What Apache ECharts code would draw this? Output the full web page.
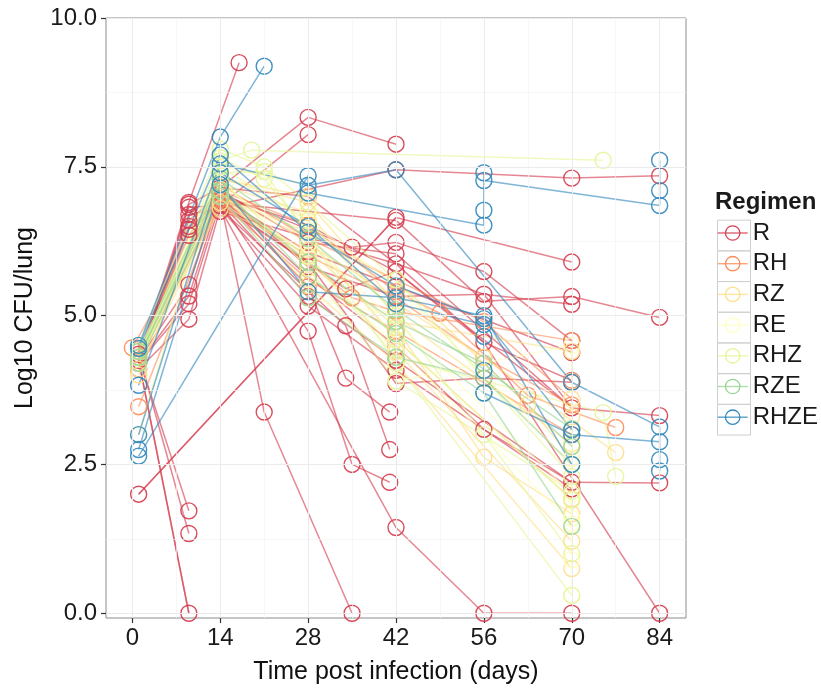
<!DOCTYPE html>
<html><head><meta charset="utf-8">
<script src="https://cdn.jsdelivr.net/npm/echarts@6/dist/echarts.min.js"></script>
<style>html,body{margin:0;padding:0;background:#fff}#c{width:821px;height:690px}</style>
</head><body><div id="c"></div>
<script>
const regimens = ['R','RH','RZ','RE','RHZ','RZE','RHZE'];
const regimenColors = ['#D53E4F','#FC8D59','#FEE08B','#FFFFBF','#E6F598','#99D594','#3288BD'];
const xTicks = [0,14,28,42,56,70,84];
const xMinor = [7,21,35,49,63,77];
const yTicks = [0,2.5,5,7.5,10];
const yMinor = [1.25,3.75,6.25,8.75];

// trajectories: [day, log10 CFU]  (first two appear twice: overlapping animals)
const pathsR = [
  [[1,4.25],[9,0]],
  [[1,4.25],[9,0]],
  [[1,2.0],[42,6.65],[70,5.9]],
  [[1,2.0],[42,6.65]],
  [[1,4.3],[9,1.72]],
  [[1,4.35],[9,1.34]],
  [[1,4.2],[9,6.87],[14,7.15],[28,8.33],[42,7.88]],
  [[1,4.2],[9,6.82],[14,6.85],[28,8.04]],
  [[1,4.25],[9,6.7],[14,6.8],[42,7.45],[70,7.31],[84,7.35]],
  [[1,4.3],[9,6.9],[17,9.25]],
  [[1,4.3],[9,6.35],[14,6.95],[21,3.38],[35,0]],
  [[1,4.25],[9,5.52],[14,7.1],[28,5.82],[42,5.32],[56,5.36],[70,5.19]],
  [[1,4.2],[9,5.33],[14,7.0],[28,5.49],[34,3.95],[41,3.38]],
  [[1,4.2],[9,5.2],[14,6.9],[28,4.74],[35,2.5],[41,2.2]],
  [[1,4.1],[9,4.94],[14,6.8],[42,1.44],[56,0],[70,0]],
  [[1,4.25],[9,6.6],[14,7.05],[35,6.15],[42,6.23],[56,5.74],[70,4.58]],
  [[1,4.3],[9,6.5],[14,6.9],[34,5.45],[42,5.74],[56,4.55],[84,0]],
  [[14,6.8],[34,4.83],[41,2.75]],
  [[14,6.9],[42,6.6],[56,5.24],[70,5.32],[84,4.97]],
  [[14,7.1],[28,6.23],[42,6.04],[70,3.45],[84,3.32]],
  [[14,7.0],[28,5.65],[42,4.49],[56,3.09],[70,2.2],[84,2.19]],
  [[14,6.85],[28,5.9],[42,3.86],[56,3.95],[70,3.88]],
  [[14,7.0],[28,6.07],[42,5.49],[70,4.38]],
  [[14,6.8],[28,5.16],[42,4.08],[70,2.09]],
  [[14,6.75],[42,5.87],[56,5.36],[70,3.45]],
  [[1,4.2],[9,6.45],[14,7.0],[28,6.52],[42,5.74],[70,3.45]],
  [[14,7.15],[28,7.0],[42,5.87],[56,4.55],[70,3.91]],
  [[14,6.9],[28,5.32],[42,4.25],[70,2.2]]
];
const pathsRH = [
  [[0,4.46],[14,7.1],[28,6.52],[42,5.4],[49,5.04],[63,3.66],[77,3.12]],
  [[1,3.47],[14,6.95],[28,6.0],[42,5.3],[56,4.3],[70,3.5]],
  [[1,4.4],[14,7.05],[35,5.3],[42,5.07],[70,4.58]],
  [[1,4.3],[14,6.9],[28,5.6],[42,4.74],[70,3.0]],
  [[1,4.2],[14,7.2],[28,6.3],[42,5.6],[56,4.9],[70,3.6]]
];
const pathsRZ = [
  [[1,4.3],[14,7.2],[28,6.73],[42,5.0],[70,2.84]],
  [[1,4.2],[14,7.0],[28,6.3],[42,4.6],[70,1.92]],
  [[1,4.1],[14,6.9],[28,6.0],[42,4.4],[70,1.21]],
  [[1,4.2],[14,7.1],[28,5.5],[42,4.2],[70,0.75]],
  [[1,4.0],[14,7.3],[28,6.9],[42,5.2],[56,4.3],[77,2.7]],
  [[1,4.3],[14,6.8],[28,6.1],[42,4.8],[56,2.62],[70,1.67]],
  [[1,4.2],[14,7.0],[28,6.4],[42,5.6],[63,3.5],[70,2.6]],
  [[1,4.4],[14,7.3],[28,7.0],[28,6.6],[28,6.2],[42,5.3],[42,4.9],[70,4.4],[70,3.9],[70,3.3]]
];
const pathsRE = [
  [[1,4.3],[14,7.4],[28,6.6],[42,5.5],[70,2.5]],
  [[1,4.2],[14,7.2],[28,6.2],[42,4.9],[70,2.0]],
  [[1,4.4],[14,7.3],[28,5.9],[42,4.5],[70,1.5]],
  [[1,4.3],[14,7.5],[28,7.2],[28,6.8],[28,6.4],[28,6.0],[28,5.6],[28,5.3],[42,5.0],[42,4.6],[42,4.2],[42,3.9],[70,4.5],[70,3.6],[70,2.6],[70,1.6],[70,0.9],[70,0.3]]
];
const pathsRHZ = [
  [[1,4.3],[14,7.6],[19,7.78],[75,7.61]],
  [[1,4.2],[14,7.4],[21,7.42],[42,4.2],[70,0.3]],
  [[1,3.0],[14,7.65],[21,7.3],[42,4.6],[70,1.9]],
  [[1,4.4],[14,7.0],[28,6.0],[42,4.3],[75,3.37],[77,2.3]],
  [[1,4.3],[14,7.3],[28,5.8],[42,3.9],[70,2.05]],
  [[1,4.2],[14,7.5],[28,6.6],[42,5.0],[56,3.0],[70,1.0]],
  [[1,4.5],[14,7.8],[21,7.5],[28,6.9],[42,5.6],[70,2.3]]
];
const pathsRZE = [
  [[1,4.3],[14,7.2],[28,5.65],[42,4.7],[56,3.7],[70,1.46]],
  [[1,4.2],[14,7.0],[28,5.3],[42,4.3],[56,3.95],[70,2.5]],
  [[1,4.4],[14,7.3],[28,6.3],[42,5.1],[70,3.1]],
  [[1,4.3],[14,7.1],[28,5.9],[42,4.9],[56,4.2],[70,2.8]]
];
const pathsRHZE = [
  [[1,4.5],[14,8.0],[21,9.19]],
  [[1,4.45],[14,7.7],[28,6.4],[42,5.5],[56,4.95],[70,3.08]],
  [[1,2.64],[28,7.35],[28,7.06],[56,6.52],[56,6.77],[56,7.4],[56,7.27],[84,6.85],[84,7.61],[84,7.1]],
  [[1,3.83],[14,7.55],[28,7.19],[42,7.45],[70,3.88],[84,3.13],[84,2.88],[84,2.58],[84,2.39]],
  [[1,3.0],[14,7.4],[28,6.5],[42,5.2],[56,4.85],[56,4.65],[56,4.08],[56,3.7],[70,3.0],[84,2.88]],
  [[1,2.75],[14,7.2],[28,5.4],[42,5.3],[56,5.0],[70,2.5]]
];
const allPaths = [pathsR,pathsRH,pathsRZ,pathsRE,pathsRHZ,pathsRZE,pathsRHZE];

const FONT = 'Liberation Sans, Arial, Helvetica, sans-serif';
const chart = echarts.init(document.getElementById('c'), null, {renderer:'canvas'});

function uniquePoints(paths){
  const seen = new Set(), out = [];
  paths.forEach(p=>p.forEach(pt=>{
    const k = pt[0]+'_'+pt[1];
    if(!seen.has(k)){ seen.add(k); out.push(pt); }
  }));
  return out;
}

const series = [];
series.push({
  type:'line', name:'__grid', data:[], silent:true, z:1, animation:false,
  markLine:{silent:true, symbol:['none','none'], animation:false, label:{show:false},
    emphasis:{disabled:true},
    data:[].concat(
      xMinor.map(v=>({xAxis:v, lineStyle:{color:'#f4f4f4', width:0.7, type:'solid'}})),
      yMinor.map(v=>({yAxis:v, lineStyle:{color:'#f4f4f4', width:0.7, type:'solid'}})),
      xTicks.map(v=>({xAxis:v, lineStyle:{color:'#ebebeb', width:1, type:'solid'}})),
      yTicks.map(v=>({yAxis:v, lineStyle:{color:'#ebebeb', width:1, type:'solid'}}))
    )}
});
allPaths.forEach((paths,i)=>{
  const c = regimenColors[i];
  paths.forEach(p=>{
    series.push({type:'line', name:regimens[i], data:p, showSymbol:false, symbol:'circle',
      silent:true, clip:false, animation:false, z:2,
      lineStyle:{color:c, width:1.5, opacity:0.62},
      itemStyle:{color:'rgba(0,0,0,0)', borderColor:c, borderWidth:1.3},
      emphasis:{disabled:true}});
  });
});
allPaths.forEach((paths,i)=>{
  const c = regimenColors[i];
  series.push({type:'scatter', name:regimens[i], data:uniquePoints(paths), symbol:'circle', symbolSize:16,
    silent:true, clip:false, animation:false, z:3,
    itemStyle:{color:'rgba(0,0,0,0)', borderColor:c, borderWidth:1.4, opacity:0.92},
    emphasis:{disabled:true}});
});

const legendCenter0 = 233, legendStep = 30.7;
const graphics = [{type:'text', left:715, top:190, style:{text:'Regimen', font:'bold 24px '+FONT, fill:'#1a1a1a'}}];
regimens.forEach((r,i)=>{
  graphics.push({type:'rect', left:715, top: legendCenter0 - legendStep/2 + i*legendStep, shape:{width:33, height:legendStep},
    style:{fill:'none', stroke:'#cfcfcf', lineWidth:1}});
});

chart.setOption({
  animation:false,
  backgroundColor:'#fff',
  grid:{left:106, right:135, top:18, bottom:64, show:true, borderColor:'#8c8c8c', borderWidth:1, backgroundColor:'#fff', containLabel:false},
  xAxis:{type:'value', min:-4.2, max:88.2,
    axisLine:{show:false, onZero:false},
    axisTick:{show:true, customValues:xTicks, length:5, lineStyle:{color:'#333', width:1.2}},
    axisLabel:{customValues:xTicks, fontSize:24, fontFamily:FONT, color:'#1a1a1a', margin:8},
    splitLine:{show:false},
    name:'Time post infection (days)', nameLocation:'middle', nameGap:42,
    nameTextStyle:{fontSize:25, fontFamily:FONT, color:'#111'}},
  yAxis:{type:'value', min:-0.08, max:10,
    axisLine:{show:false, onZero:false},
    axisTick:{show:true, customValues:yTicks, length:5, lineStyle:{color:'#333', width:1.2}},
    axisLabel:{customValues:yTicks, fontSize:24, fontFamily:FONT, color:'#1a1a1a', margin:9, formatter:v=>v.toFixed(1)},
    splitLine:{show:false},
    name:'Log10 CFU/lung', nameLocation:'middle', nameGap:68, nameRotate:90,
    nameTextStyle:{fontSize:25, fontFamily:FONT, color:'#111'}},
  legend:{orient:'vertical', left:717, top:legendCenter0-12, padding:0, itemWidth:30, itemHeight:18, itemGap:legendStep-24,
    selectedMode:false, textStyle:{fontSize:24, fontFamily:FONT, color:'#1a1a1a', lineHeight:24},
    data: regimens.map((r,i)=>({name:r, itemStyle:{color:'rgba(0,0,0,0)', borderColor:regimenColors[i], borderWidth:1.3},
      lineStyle:{color:regimenColors[i], width:1.4, opacity:0.8}}))},
  graphic:graphics,
  series:series
});
</script></body></html>
